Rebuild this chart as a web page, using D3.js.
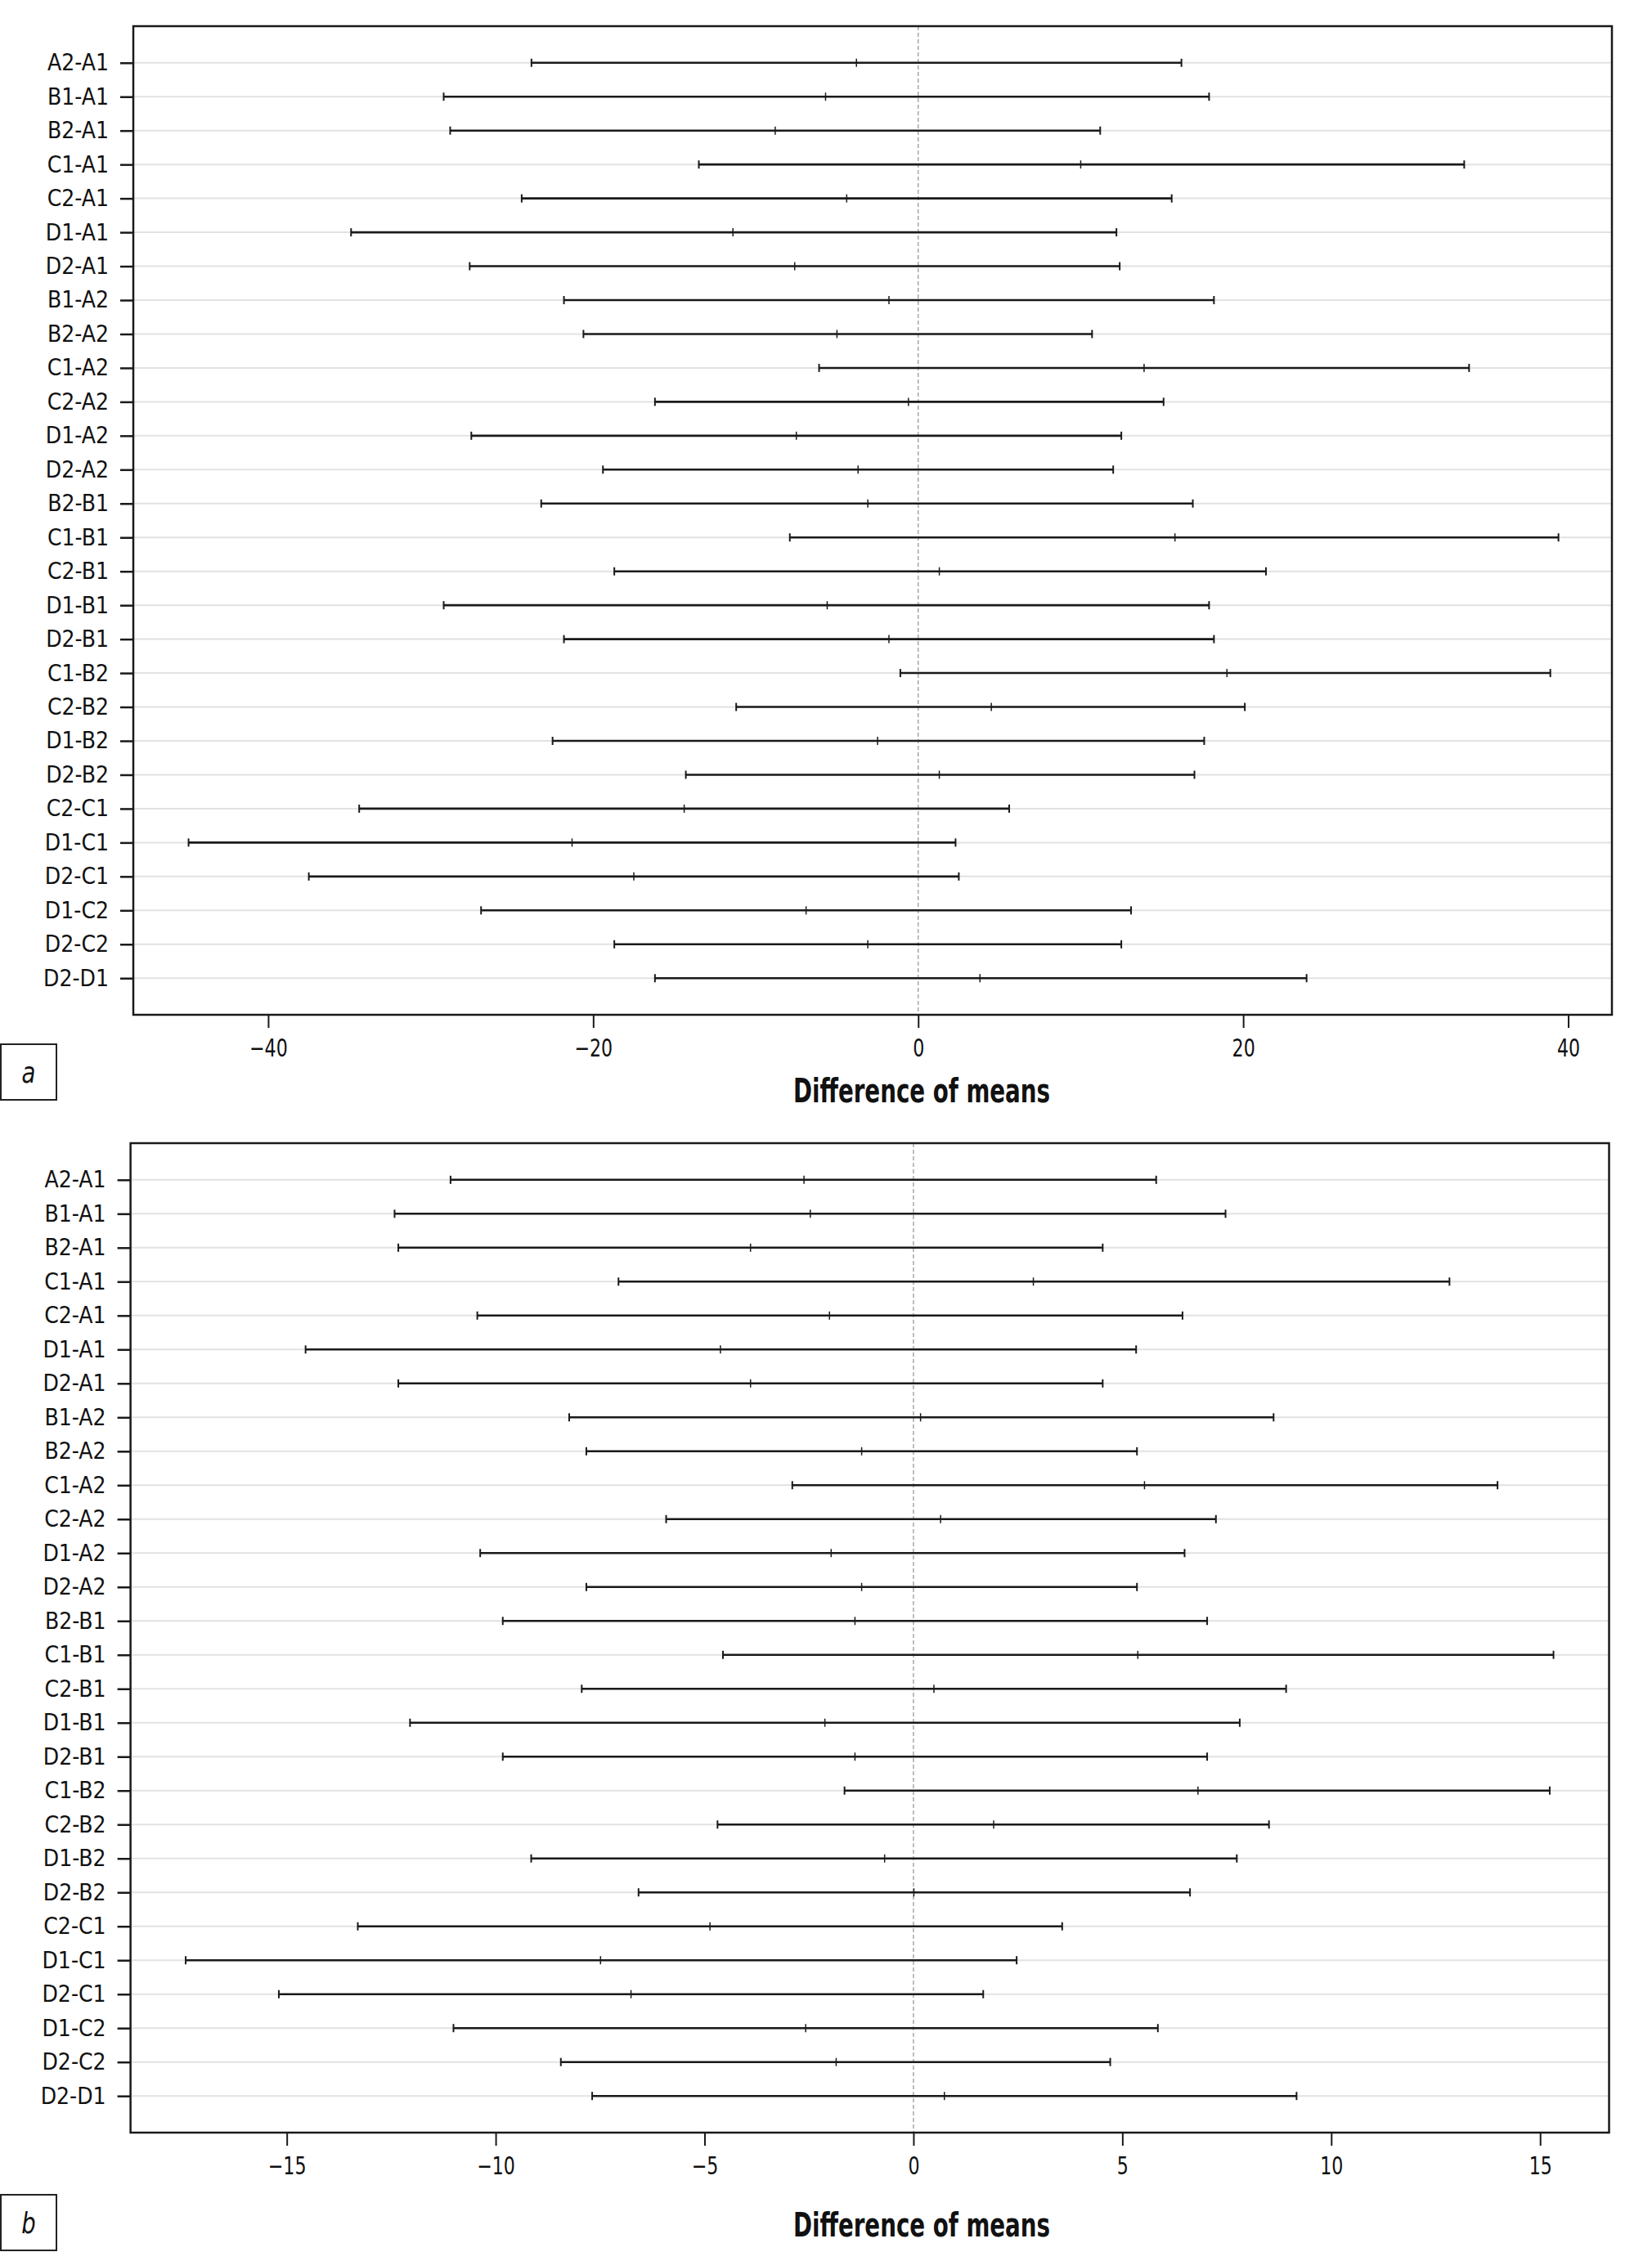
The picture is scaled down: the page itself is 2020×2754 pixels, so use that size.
<!DOCTYPE html>
<html>
<head>
<meta charset="utf-8">
<script src="https://cdn.jsdelivr.net/npm/d3@7"></script>
<style>
  body { margin: 0; background: #fff; }
  text { font-family: "DejaVu Sans Condensed", "DejaVu Sans", sans-serif; font-stretch: condensed; fill: #111; }
</style>
</head>
<body>
<script>
var width = 2020
var height = 2754

// comparisons, top to bottom
var labels = ["A2-A1", "B1-A1", "B2-A1", "C1-A1", "C2-A1", "D1-A1", "D2-A1",
              "B1-A2", "B2-A2", "C1-A2", "C2-A2", "D1-A2", "D2-A2",
              "B2-B1", "C1-B1", "C2-B1", "D1-B1", "D2-B1",
              "C1-B2", "C2-B2", "D1-B2", "D2-B2",
              "C2-C1", "D1-C1", "D2-C1", "D1-C2", "D2-C2", "D2-D1"]

// panel a
var lowerA = [-23.8, -29.2, -28.8, -13.5, -24.4, -34.9, -27.6,
              -21.8, -20.6, -6.1, -16.2, -27.5, -19.4,
              -23.2, -7.9, -18.7, -29.2, -21.8,
              -1.1, -11.2, -22.5, -14.3,
              -34.4, -44.9, -37.5, -26.9, -18.7, -16.2]
var meanA  = [-3.8, -5.7, -8.8, 10.0, -4.4, -11.4, -7.6,
              -1.8, -5.0, 13.9, -0.6, -7.5, -3.7,
              -3.1, 15.8, 1.3, -5.6, -1.8,
              19.0, 4.5, -2.5, 1.3,
              -14.4, -21.3, -17.5, -6.9, -3.1, 3.8]
var upperA = [16.2, 17.9, 11.2, 33.6, 15.6, 12.2, 12.4,
              18.2, 10.7, 33.9, 15.1, 12.5, 12.0,
              16.9, 39.4, 21.4, 17.9, 18.2,
              38.9, 20.1, 17.6, 17.0,
              5.6, 2.3, 2.5, 13.1, 12.5, 23.9]

// panel b
var lowerB = [-11.08, -12.42, -12.33, -7.06, -10.44, -14.55, -12.33,
              -8.24, -7.83, -2.90, -5.92, -10.37, -7.83,
              -9.83, -4.56, -7.94, -12.05, -9.83,
              -1.65, -4.69, -9.15, -6.58,
              -13.30, -17.42, -15.19, -11.01, -8.44, -7.69]
var meanB  = [-2.62, -2.47, -3.90, 2.87, -2.01, -4.62, -3.90,
              0.17, -1.24, 5.53, 0.65, -1.97, -1.24,
              -1.40, 5.37, 0.49, -2.12, -1.40,
              6.81, 1.92, -0.69, 0.01,
              -4.87, -7.49, -6.76, -2.58, -1.85, 0.74]
var upperB = [5.81, 7.47, 4.53, 12.83, 6.44, 5.33, 4.53,
              8.62, 5.35, 13.98, 7.24, 6.49, 5.35,
              7.03, 15.32, 8.92, 7.81, 7.03,
              15.23, 8.51, 7.74, 6.62,
              3.56, 2.47, 1.67, 5.85, 4.71, 9.17]

var ticksA = [-40, -20, 0, 20, 40]
var ticksB = [-15, -10, -5, 0, 5, 10, 15]
var xTitle = "Difference of means"

var svg = d3.select("body")
            .append("svg")
            .attr("width", width)
            .attr("height", height)

var panels = [
  { tag: "a", lower: lowerA, mean: meanA, upper: upperA, ticks: ticksA,
    domain: [-48.3, 42.69], left: 163, right: 1971, top: 32, bottom: 1241,
    titleY: 1348, boxY: 1277 },
  { tag: "b", lower: lowerB, mean: meanB, upper: upperB, ticks: ticksB,
    domain: [-18.74, 16.65], left: 159.6, right: 1967.5, top: 1398, bottom: 2608,
    titleY: 2735, boxY: 2684 }
]

panels.forEach(function(p) {
  var x = d3.scaleLinear().domain(p.domain).range([p.left, p.right])
  var y = d3.scalePoint().domain(labels).range([p.top, p.bottom]).padding(1.08)

  var g = svg.append("g")

  // light row guides
  g.selectAll(".grid")
    .data(labels)
    .enter()
    .append("line")
    .attr("x1", p.left).attr("x2", p.right)
    .attr("y1", function(d) { return y(d) })
    .attr("y2", function(d) { return y(d) })
    .style("stroke", "#e2e2e2")
    .style("stroke-width", 2)

  // zero reference
  g.append("line")
    .attr("x1", x(0)).attr("x2", x(0))
    .attr("y1", p.top).attr("y2", p.bottom)
    .style("stroke", "#9a9a9a")
    .style("stroke-width", 1.3)
    .style("stroke-dasharray", "5,3")

  var rows = g.selectAll(".ci")
    .data(labels)
    .enter()
    .append("g")
    .attr("transform", function(d) { return "translate(0," + y(d) + ")" })

  rows.append("line")
    .attr("x1", function(d, i) { return x(p.lower[i]) })
    .attr("x2", function(d, i) { return x(p.upper[i]) })
    .style("stroke", "#1a1a1a")
    .style("stroke-width", 2.6)

  rows.selectAll(".cap")
    .data(function(d, i) { return [p.lower[i], p.upper[i]] })
    .enter()
    .append("line")
    .attr("x1", function(v) { return x(v) })
    .attr("x2", function(v) { return x(v) })
    .attr("y1", -5).attr("y2", 5)
    .style("stroke", "#1a1a1a")
    .style("stroke-width", 2)

  rows.append("line")
    .attr("x1", function(d, i) { return x(p.mean[i]) })
    .attr("x2", function(d, i) { return x(p.mean[i]) })
    .attr("y1", -5).attr("y2", 5)
    .style("stroke", "#1a1a1a")
    .style("stroke-width", 1.5)

  // frame
  g.append("rect")
    .attr("x", p.left).attr("y", p.top)
    .attr("width", p.right - p.left)
    .attr("height", p.bottom - p.top)
    .style("fill", "none")
    .style("stroke", "#1a1a1a")
    .style("stroke-width", 2.5)

  var yAxis = g.append("g")
    .attr("transform", "translate(" + p.left + ",0)")
    .call(d3.axisLeft(y).tickSize(16).tickPadding(14))
  yAxis.select(".domain").remove()
  yAxis.selectAll("line").style("stroke", "#1a1a1a").style("stroke-width", 2.5)
  yAxis.selectAll("text")
    .attr("font-family", null)
    .style("font-size", "28px")
    .attr("fill", "#111")

  var xAxis = g.append("g")
    .attr("transform", "translate(0," + p.bottom + ")")
    .call(d3.axisBottom(x).tickValues(p.ticks).tickSize(16).tickPadding(14))
  xAxis.select(".domain").remove()
  xAxis.selectAll("line").style("stroke", "#1a1a1a").style("stroke-width", 2)
  xAxis.selectAll("text")
    .attr("font-family", null)
    .attr("transform", "scale(0.82,1)")
    .style("font-size", "30px")
    .attr("fill", "#111")

  // axis title, squeezed to the narrow face of the original
  svg.append("text")
    .attr("transform", "translate(1127," + p.titleY + ") scale(0.77,1)")
    .attr("text-anchor", "middle")
    .style("font-size", "40px")
    .style("font-weight", "bold")
    .text(xTitle)

  // panel tag box
  svg.append("rect")
    .attr("x", 1).attr("y", p.boxY)
    .attr("width", 68).attr("height", 68)
    .style("fill", "#fff")
    .style("stroke", "#222")
    .style("stroke-width", 2)
  svg.append("text")
    .attr("transform", "translate(35," + (p.boxY + 34) + ") scale(0.85,1)")
    .attr("dy", "0.35em")
    .attr("text-anchor", "middle")
    .style("font-size", "36px")
    .style("font-style", "italic")
    .text(p.tag)
})
</script>
</body>
</html>
